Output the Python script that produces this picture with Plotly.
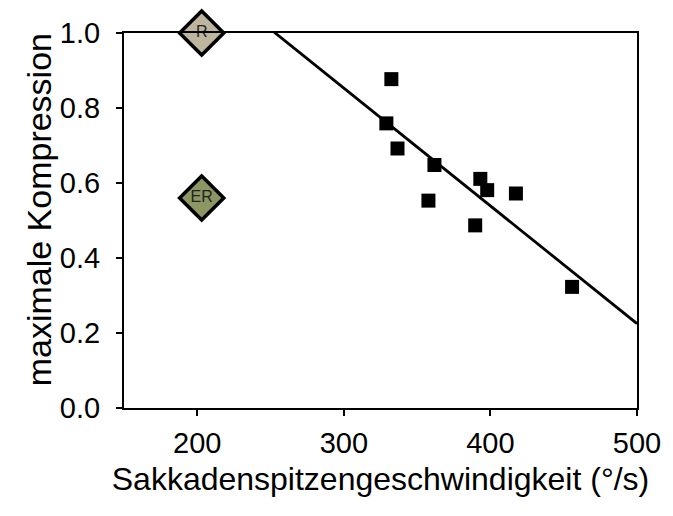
import numpy as np
import plotly.graph_objects as go

# Peak saccade velocity (deg/s) and maximal compression per subject
velocity = [332.4, 329.0, 336.6, 361.8, 357.7, 393.1, 397.8, 417.4, 389.6, 455.7]
compression = [0.877, 0.759, 0.692, 0.648, 0.553, 0.611, 0.581, 0.572, 0.487, 0.323]

# Reference conditions shown as labelled diamonds
ref_labels = ["R", "ER"]
ref_velocity = [203, 203]
ref_compression = [1.0, 0.56]
ref_colors = ["#bdb59d", "#8b9663"]

# Linear fit: compression = intercept + slope * velocity
fit_slope = -0.00314
fit_intercept = 1.795
fit_x = [150, 500]

x_ticks = [200, 300, 400, 500]
y_ticks = [0.0, 0.2, 0.4, 0.6, 0.8, 1.0]

font_family = "Liberation Sans, Arial, sans-serif"

fig = go.Figure()

fx = np.array(fit_x, dtype=float)
fig.add_trace(go.Scatter(
    x=fx, y=fit_intercept + fit_slope * fx,
    mode="lines", line=dict(color="black", width=2.8),
    hoverinfo="skip", showlegend=False,
))

fig.add_trace(go.Scatter(
    x=velocity, y=compression, mode="markers",
    marker=dict(symbol="square", size=14, color="black", line=dict(width=0)),
    showlegend=False,
))

fig.add_trace(go.Scatter(
    x=ref_velocity, y=ref_compression, mode="markers+text",
    text=ref_labels, textposition="middle center",
    textfont=dict(family=font_family, size=16, color="#222222"),
    marker=dict(symbol="diamond", size=34, color=ref_colors,
                line=dict(color="black", width=3.5)),
    cliponaxis=False, showlegend=False,
))

fig.update_layout(
    width=673, height=516,
    margin=dict(l=124, r=29, t=33, b=108),
    paper_bgcolor="white", plot_bgcolor="white",
    font=dict(family=font_family, color="black"),
)

# Vertical axis title placed as a rotated annotation left of the tick labels
fig.add_annotation(
    text="maximale Kompression", textangle=-90,
    xref="paper", yref="paper", x=-0.165, y=0.528,
    xanchor="center", yanchor="middle", showarrow=False,
    font=dict(family=font_family, size=34, color="black"),
)

fig.update_xaxes(
    range=[150, 500], tickvals=x_ticks,
    ticks="outside", ticklen=6, tickwidth=1.5, tickcolor="black",
    showline=True, linecolor="black", linewidth=2, mirror=True,
    showgrid=False, zeroline=False,
    tickfont=dict(size=29), ticklabelstandoff=2,
    title=dict(text="Sakkadenspitzengeschwindigkeit (°/s)", font=dict(size=32), standoff=10),
)
fig.update_yaxes(
    range=[0, 1.0], tickvals=y_ticks, tickformat=".1f",
    ticks="outside", ticklen=6, tickwidth=1.5, tickcolor="black",
    showline=True, linecolor="black", linewidth=2, mirror=True,
    showgrid=False, zeroline=False,
    tickfont=dict(size=29), ticklabelstandoff=10,
)

fig.write_html("out.html")
